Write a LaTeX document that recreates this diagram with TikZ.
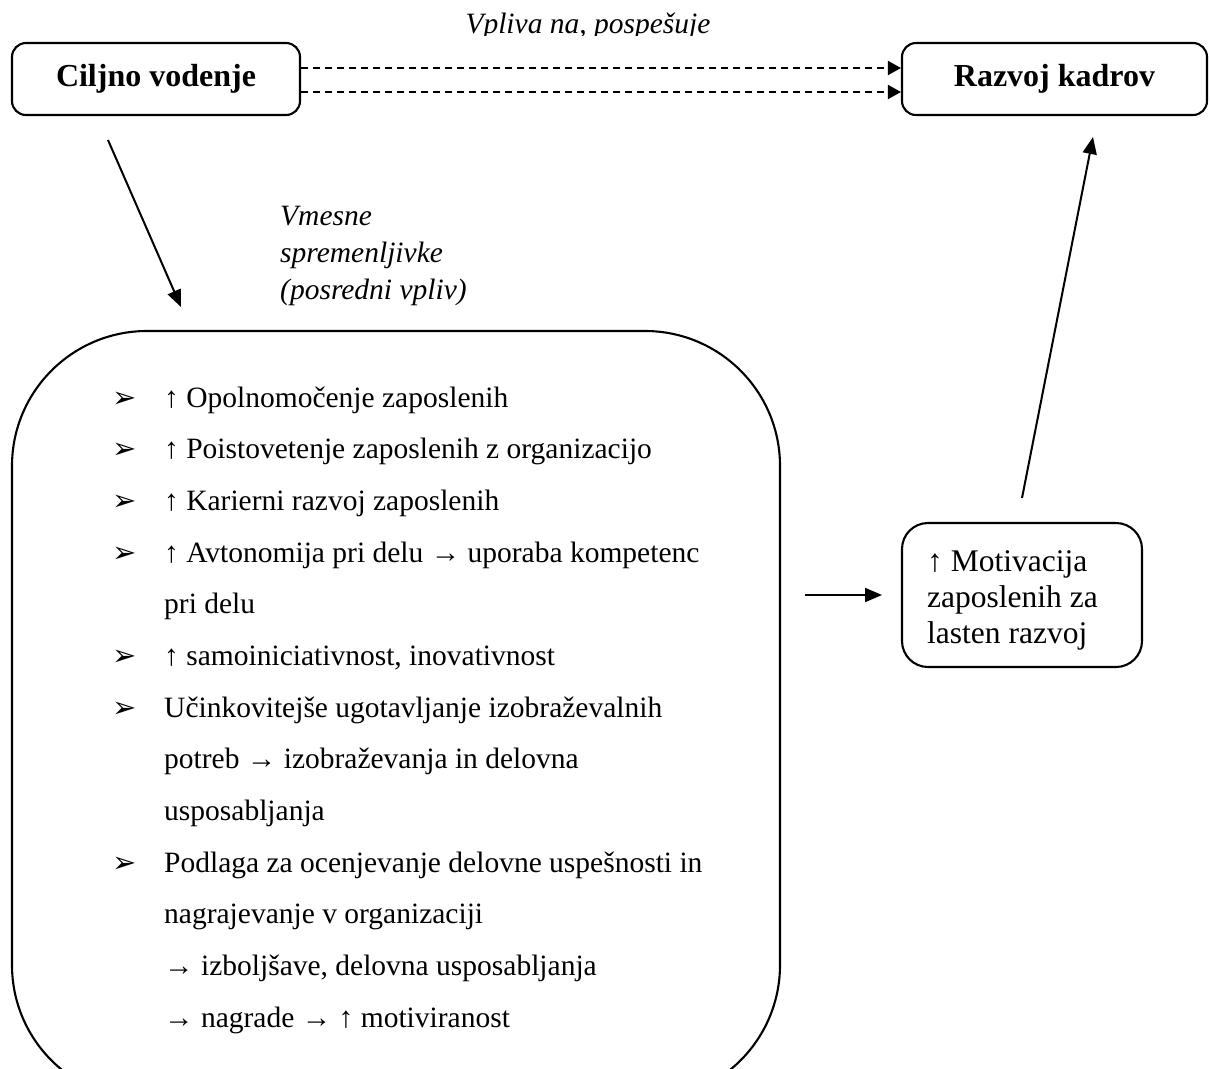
\documentclass[tikz,border=0pt]{standalone}
\usepackage{fontspec}
\setmainfont{Liberation Serif}
\newfontfamily\symfont{DejaVu Sans}
\usetikzlibrary{arrows.meta}
\tikzset{
  box/.style={draw, line width=2.1pt, rounded corners=14pt},
  conn/.style={line width=2pt, -{Triangle[length=17pt,width=14pt]}},
  dconn/.style={line width=2pt, dash pattern=on 7pt off 5pt, -{Triangle[length=13pt,width=14pt]}},
  itemtxt/.style={anchor=base west, inner sep=0pt, font=\fontsize{29.5}{34}\selectfont},
  bullet/.style={anchor=base west, inner sep=0pt, font=\symfont\fontsize{29}{32}\selectfont},
  ital/.style={anchor=base west, inner sep=0pt, font=\itshape\fontsize{29.5}{34}\selectfont},
  mtxt/.style={anchor=base west, inner sep=0pt, font=\fontsize{31.5}{36}\selectfont},
}
\begin{document}
\begin{tikzpicture}[x=1pt,y=-1pt]
\useasboundingbox (0,0) rectangle (1211,1069);
% top boxes
\node[box, minimum width=288pt, minimum height=72pt, font=\bfseries\fontsize{32}{36}\selectfont] (cv) at (156,79) {Ciljno vodenje};
\node[box, minimum width=305pt, minimum height=72pt, font=\bfseries\fontsize{32}{36}\selectfont] (rk) at (1054.5,79) {Razvoj kadrov};
\begin{scope}
\clip (0,0) rectangle (1211,35);
\node[ital, anchor=base] (vp) at (588,33) {Vpliva na, pospešuje};
\end{scope}
\draw[dconn] ([yshift=11pt]cv.east) -- ([yshift=11pt]rk.west);
\draw[dconn] ([yshift=-13pt]cv.east) -- ([yshift=-13pt]rk.west);
% arrow down to big box
\coordinate (a1s) at (108,140);
\coordinate (a1e) at (181,307);
\draw[conn] (a1s) -- (a1e);
% intermediate text
\node[ital] (vm1) at (280,225) {Vmesne};
\node[ital] (vm2) at (280,262) {spremenljivke};
\node[ital] (vm3) at (280,299) {(posredni vpliv)};
% big box
\draw[line width=2.1pt, rounded corners=135pt] (12,331) rectangle (780,1100);
% items
\def\ls{51.67}
\foreach \k in {0,1,2,3,5,6,9}{
  \node[bullet] (b\k) at (112,{407+\k*\ls}) {➢};
}
\node[itemtxt] (l0) at (164,{407+0*\ls}) {↑ Opolnomočenje zaposlenih};
\node[itemtxt] (l1) at (164,{407+1*\ls}) {↑ Poistovetenje zaposlenih z organizacijo};
\node[itemtxt] (l2) at (164,{407+2*\ls}) {↑ Karierni razvoj zaposlenih};
\node[itemtxt] (l3) at (164,{407+3*\ls}) {↑ Avtonomija pri delu → uporaba kompetenc};
\node[itemtxt] (l4) at (164,{407+4*\ls}) {pri delu};
\node[itemtxt] (l5) at (164,{407+5*\ls}) {↑ samoiniciativnost, inovativnost};
\node[itemtxt] (l6) at (164,{407+6*\ls}) {Učinkovitejše ugotavljanje izobraževalnih};
\node[itemtxt] (l7) at (164,{407+7*\ls}) {potreb → izobraževanja in delovna};
\node[itemtxt] (l8) at (164,{407+8*\ls}) {usposabljanja};
\node[itemtxt] (l9) at (164,{407+9*\ls}) {Podlaga za ocenjevanje delovne uspešnosti in};
\node[itemtxt] (l10) at (164,{407+10*\ls}) {nagrajevanje v organizaciji};
\node[itemtxt] (l11) at (164,{407+11*\ls}) {→ izboljšave, delovna usposabljanja};
\node[itemtxt] (l12) at (164,{407+12*\ls}) {→ nagrade → ↑ motiviranost};
% motivation box
\node[box, rounded corners=26pt, minimum width=240pt, minimum height=144pt] (mot) at (1022,595) {};
\node[mtxt] (m1) at (927,571) {↑ Motivacija};
\node[mtxt] (m2) at (927,607) {zaposlenih za};
\node[mtxt] (m3) at (927,643) {lasten razvoj};
\coordinate (a2s) at (805,595);
\coordinate (a2e) at (882,595);
\draw[conn] (a2s) -- (a2e);
\coordinate (a3s) at (1022,498);
\coordinate (a3e) at (1093,137);
\draw[conn] (a3s) -- (a3e);
\end{tikzpicture}
\end{document}
